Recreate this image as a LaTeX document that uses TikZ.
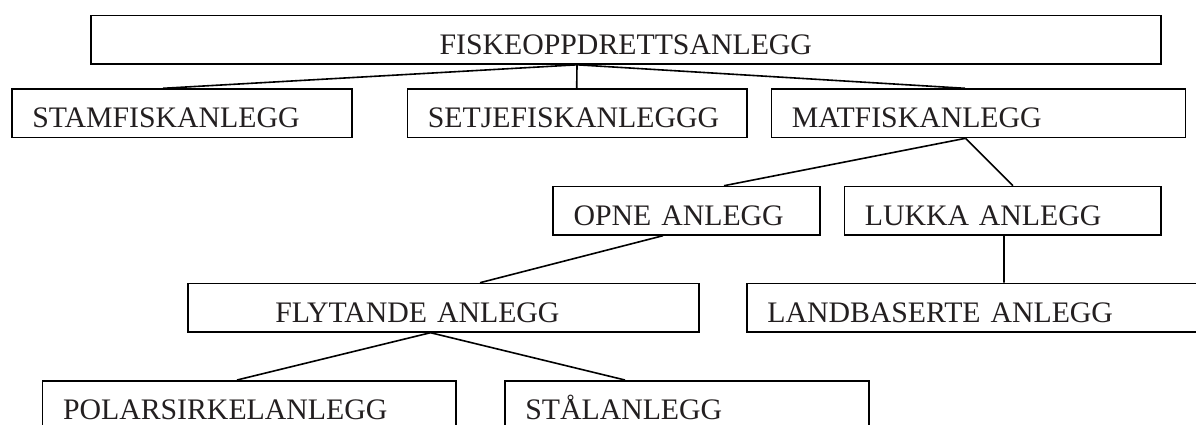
\documentclass[tikz,border=0pt]{standalone}
\usepackage{fontspec}
\setmainfont{Liberation Serif}
\definecolor{ink}{HTML}{231F20}
\begin{document}
\begin{tikzpicture}[x=1bp,y=-1bp,
  box/.style={draw=black, line width=1.6bp, anchor=north west, minimum height=48.4bp,
    inner ysep=0pt, inner xsep=20.5bp, text height=29bp, text depth=0pt, align=left,
    text=ink, font=\fontsize{29.9pt}{35pt}\selectfont},
  conn/.style={draw=black, line width=1.6bp}]
\useasboundingbox (0,0) rectangle (1196,424);
\node[box, align=center, text width=1029bp] (top) at (90,14.8) {FISKEOPPDRETTSANLEGG};
\node[box, text width=299bp] (stam) at (11,88.3) {STAMFISKANLEGG};
\node[box, text width=298.5bp] (setje) at (406.5,88.3) {SETJEFISKANLEGGG};
\node[box, text width=373bp] (mat) at (770.5,88.3) {MATFISKANLEGG};
\node[box, text width=226bp] (opne) at (552.3,185.7) {OPNE ANLEGG};
\node[box, text width=275.5bp] (lukka) at (843.5,185.7) {LUKKA ANLEGG};
\node[box, inner xsep=87.5bp, text width=336bp] (flyt) at (187,282.7) {FLYTANDE ANLEGG};
\node[box, text width=429bp] (landb) at (746,282.7) {LANDBASERTE ANLEGG};
\node[box, text width=372.3bp] (polar) at (41.7,380) {POLARSIRKELANLEGG};
\node[box, text width=323bp] (stal) at (504,380) {STÅLANLEGG};
\draw[conn] ([xshift=487bp]top.south west) -- ([xshift=152bp]stam.north west);
\draw[conn] ([xshift=487bp]top.south west) -- ([xshift=170.2bp]setje.north west);
\draw[conn] ([xshift=487bp]top.south west) -- ([xshift=194.5bp]mat.north west);
\draw[conn] ([xshift=195bp]mat.south west) -- ([xshift=171.7bp]opne.north west);
\draw[conn] ([xshift=195bp]mat.south west) -- ([xshift=169.5bp]lukka.north west);
\draw[conn] ([xshift=110.7bp]opne.south west) -- ([xshift=293bp]flyt.north west);
\draw[conn] ([xshift=160.5bp]lukka.south west) -- ([xshift=258bp]landb.north west);
\draw[conn] ([xshift=243.5bp]flyt.south west) -- ([xshift=195.3bp]polar.north west);
\draw[conn] ([xshift=243.5bp]flyt.south west) -- ([xshift=121bp]stal.north west);
\end{tikzpicture}
\end{document}
